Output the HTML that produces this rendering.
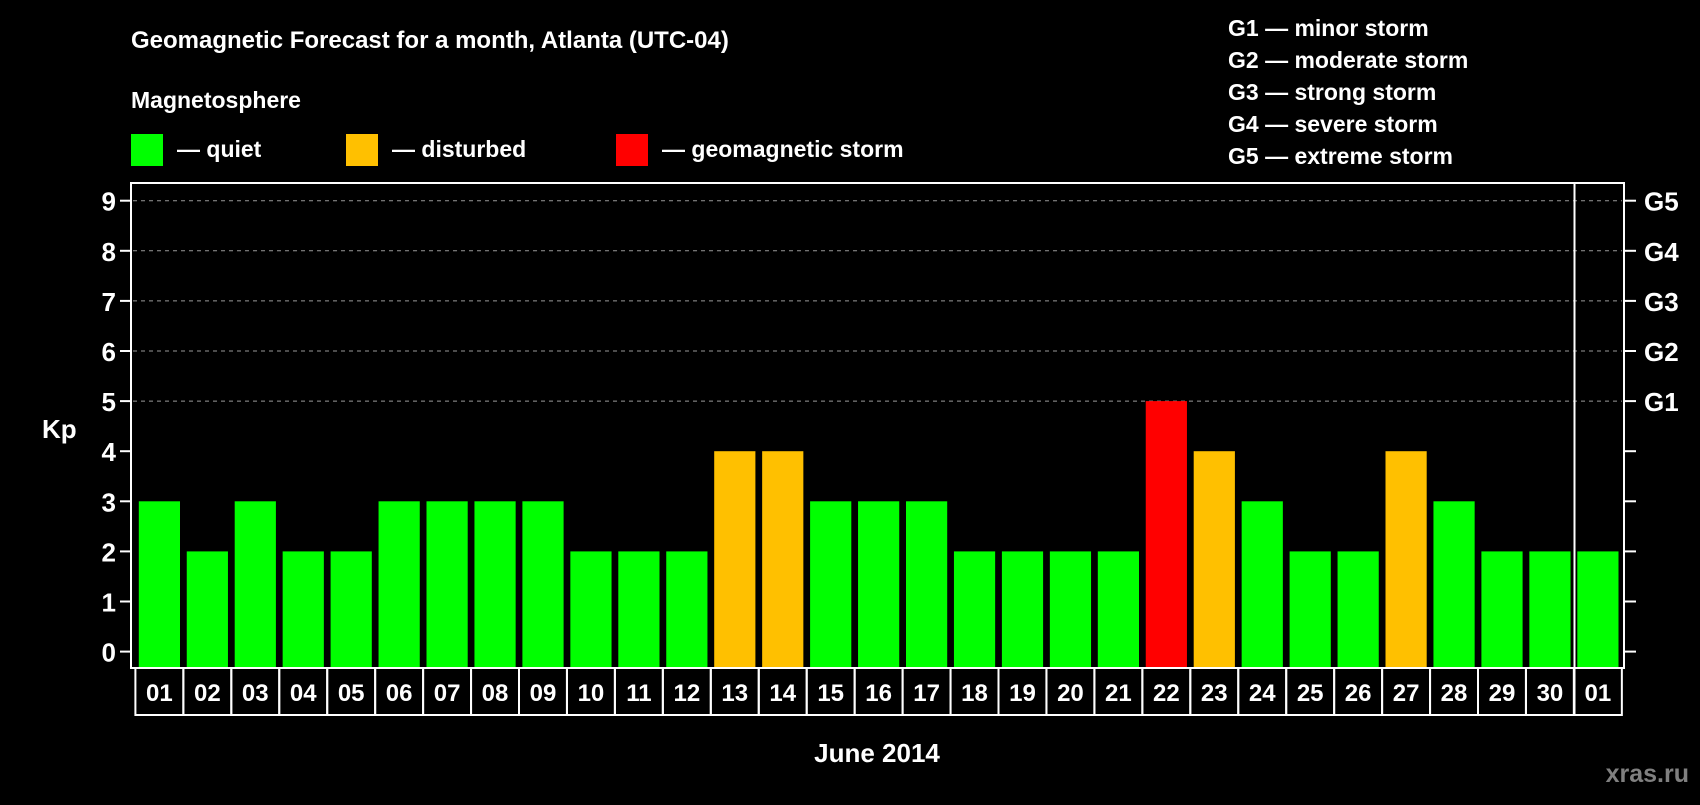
<!DOCTYPE html>
<html><head><meta charset="utf-8">
<style>
body{margin:0;background:#000;width:1700px;height:800px;overflow:hidden;font-family:"Liberation Sans",Arial,sans-serif;}
svg text{font-family:"Liberation Sans",Arial,sans-serif;font-weight:bold;fill:#fff;}
</style></head>
<body>
<svg id="chart" width="1700" height="800" xmlns="http://www.w3.org/2000/svg">
<rect width="1700" height="800" fill="#000"/>
<text x="131" y="48" font-size="24">Geomagnetic Forecast for a month, Atlanta (UTC-04)</text>
<text x="131" y="108" font-size="23">Magnetosphere</text>
<g><rect x="131" y="134" width="32" height="32" fill="#00ff00"/><text x="177" y="157" font-size="23">— quiet</text></g>
<g><rect x="346" y="134" width="32" height="32" fill="#ffc000"/><text x="392" y="157" font-size="23">— disturbed</text></g>
<g><rect x="616" y="134" width="32" height="32" fill="#ff0000"/><text x="662" y="157" font-size="23">— geomagnetic storm</text></g>
<g font-size="23">
<text x="1228" y="36">G1 — minor storm</text>
<text x="1228" y="68">G2 — moderate storm</text>
<text x="1228" y="100">G3 — strong storm</text>
<text x="1228" y="132">G4 — severe storm</text>
<text x="1228" y="164">G5 — extreme storm</text>
</g>
<g id="grid"></g>
<g id="bars"></g>
<rect x="131" y="183" width="1493" height="485" fill="none" stroke="#fff" stroke-width="2"/>
<line x1="1574.5" y1="183" x2="1574.5" y2="716" stroke="#fff" stroke-width="2"/>
<g id="axes"></g>
<text x="42" y="438" font-size="26">Kp</text>
<text x="877" y="762" font-size="26" text-anchor="middle">June 2014</text>
<text x="1689" y="782" font-size="25" text-anchor="end" style="fill:#808080">xras.ru</text>
</svg>
<script>
const days=["01","02","03","04","05","06","07","08","09","10","11","12","13","14","15","16","17","18","19","20","21","22","23","24","25","26","27","28","29","30","01"];
const kp=[3,2,3,2,2,3,3,3,3,2,2,2,4,4,3,3,3,2,2,2,2,5,4,3,2,2,4,3,2,2,2];
const yTicks=[0,1,2,3,4,5,6,7,8,9];
const gLabels=["G1","G2","G3","G4","G5"];
const NS="http://www.w3.org/2000/svg";
const y0=651.6,unit=50.1,x0=138.8,pitch=47.95,bw=41.2,plotBottom=668;
function yS(v){return y0-v*unit;}
function xS(i){return x0+i*pitch;}
function mk(t,a,p){const e=document.createElementNS(NS,t);for(const k in a)e.setAttribute(k,a[k]);p.appendChild(e);return e;}
function color(v){return v>=5?"#ff0000":v>=4?"#ffc000":"#00ff00";}
const grid=document.getElementById('grid'),bars=document.getElementById('bars'),axes=document.getElementById('axes');
yTicks.forEach(v=>{
  if(v>=5){const l=mk('line',{x1:133,x2:1622,y1:yS(v),y2:yS(v),stroke:'#999','stroke-dasharray':'4 4','stroke-width':1},grid);
    
    }
  const t1=mk('line',{x1:120,x2:131,y1:yS(v),y2:yS(v),stroke:'#fff','stroke-width':2},axes);
  
  
  const t2=mk('line',{x1:1624,x2:1636,y1:yS(v),y2:yS(v),stroke:'#fff','stroke-width':2},axes);
  
  
  const lb=mk('text',{x:116,y:yS(v)+10,'font-size':26,'text-anchor':'end'},axes);lb.textContent=v;
  
  
});
gLabels.forEach((g,i)=>{
  const t=mk('text',{x:1644,y:yS(5+i)+10,'font-size':26},axes);t.textContent=g;
  
  
});
kp.forEach((v,i)=>{
  const r=mk('rect',{x:xS(i),y:yS(v),width:bw,height:plotBottom-1-yS(v),fill:color(v)},bars);
  
  
});
days.forEach((d,i)=>{
  const bx=xS(i)-3.4;
  const b=mk('rect',{x:bx,y:plotBottom,width:pitch,height:47,fill:'none',stroke:'#fff','stroke-width':2},axes);
  
  
  const t=mk('text',{x:bx+pitch/2,y:plotBottom+33,'font-size':24,'text-anchor':'middle'},axes);t.textContent=d;
  
  
});
</script>
</body></html>
